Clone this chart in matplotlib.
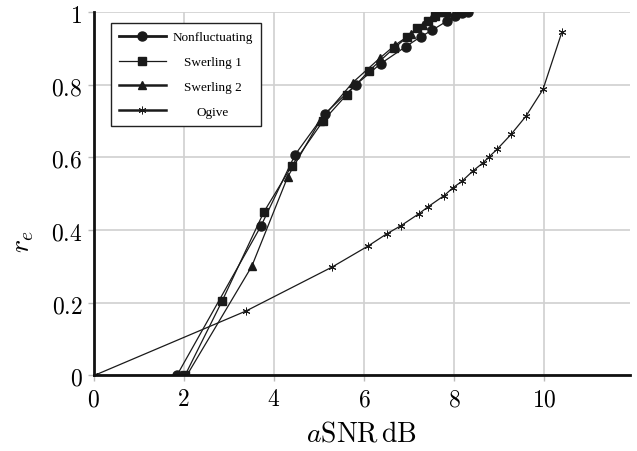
import matplotlib
matplotlib.use("Agg")
import matplotlib.pyplot as plt
from matplotlib.ticker import FuncFormatter

plt.rcParams["mathtext.fontset"] = "cm"

# data
nonfluct_x = [1.85, 3.71, 4.47, 5.13, 5.82, 6.37, 6.93, 7.26, 7.51, 7.84, 8.02, 8.17, 8.30]
nonfluct_r = [0.0, 0.41, 0.607, 0.72, 0.80, 0.858, 0.905, 0.932, 0.95, 0.975, 0.99, 0.997, 1.0]

swer1_x = [2.03, 2.85, 3.78, 4.40, 5.09, 5.62, 6.11, 6.66, 6.95, 7.17, 7.42, 7.57, 7.73, 7.82]
swer1_r = [0.0, 0.204, 0.45, 0.577, 0.70, 0.773, 0.838, 0.90, 0.93, 0.956, 0.975, 0.99, 1.0, 1.0]

swer2_x = [2.07, 3.51, 4.31, 5.02, 5.75, 6.35, 6.69, 7.05, 7.30, 7.50, 7.65]
swer2_r = [0.0, 0.30, 0.547, 0.70, 0.806, 0.873, 0.909, 0.94, 0.965, 0.985, 1.0]

ogive_x = [0.02, 3.38, 5.29, 6.09, 6.51, 6.82, 7.22, 7.42, 7.78, 7.97, 8.17,
           8.41, 8.64, 8.77, 8.95, 9.26, 9.59, 9.97, 10.39]
ogive_r = [0.0, 0.177, 0.298, 0.356, 0.39, 0.412, 0.445, 0.464, 0.495, 0.516, 0.534,
           0.562, 0.585, 0.601, 0.622, 0.663, 0.713, 0.787, 0.945]

labels = ["Nonfluctuating", "Swerling 1", "Swerling 2", "Ogive"]
xticks = [0, 2, 4, 6, 8, 10]
yticks = [0, 0.2, 0.4, 0.6, 0.8, 1]

fig = plt.figure(figsize=(6.37, 4.52), dpi=100)
ax = fig.add_axes([0.1468, 0.1673, 0.8422, 0.8039])

col = "#1a1a1a"
ax.plot(nonfluct_x, nonfluct_r, color=col, lw=0.9, marker="o", ms=6.5, label=labels[0])
ax.plot(swer1_x, swer1_r, color=col, lw=0.9, marker="s", ms=6, label=labels[1])
ax.plot(swer2_x, swer2_r, color=col, lw=0.9, marker="^", ms=5.5, label=labels[2])
ax.plot(ogive_x, ogive_r, color=col, lw=0.9, marker=(6, 2, 0), ms=5.5, mew=0.7, label=labels[3])

ax.set_xlim(0, 11.9)
ax.set_ylim(0, 1)
ax.set_xticks(xticks)
ax.set_yticks(yticks)
fmt = FuncFormatter(lambda v, p: "$%g$" % v)
ax.xaxis.set_major_formatter(fmt)
ax.yaxis.set_major_formatter(fmt)
ax.tick_params(labelsize=17, color="#bbbbbb", length=4, width=1, pad=4)
ax.grid(True, color="#d0d0d0", lw=1.2)
ax.set_axisbelow(True)

for s in ["top", "right"]:
    ax.spines[s].set_visible(False)
for s in ["left", "bottom"]:
    ax.spines[s].set_linewidth(2)
    ax.spines[s].set_color("#111111")

ax.set_xlabel(r"$a\mathrm{SNR}\,\mathrm{dB}$", fontsize=20, labelpad=6)
ax.set_ylabel(r"$r_e$", fontsize=20)
ax.yaxis.set_label_coords(-0.107, 0.37)

leg = ax.legend(loc="upper left", bbox_to_anchor=(0.032, 0.969), borderaxespad=0,
                fancybox=False, edgecolor="#222222", framealpha=1,
                prop={"family": "Liberation Serif", "size": 9.5},
                handlelength=3.6, handletextpad=0.5, labelspacing=0.95,
                borderpad=0.6)
leg.get_frame().set_linewidth(1.0)
hl = leg.get_lines()
hl[0].set_linewidth(2.0)
hl[1].set_linewidth(0.9)
hl[2].set_linewidth(1.8)
hl[3].set_linewidth(1.8)

# centre the legend texts in their column
fig.canvas.draw()
r = fig.canvas.get_renderer()
texts = leg.get_texts()
ws = [t.get_window_extent(r).width for t in texts]
for t, w in zip(texts, ws):
    t.set_x((max(ws) - w) / 2)

fig.savefig("out.png", dpi=100)
